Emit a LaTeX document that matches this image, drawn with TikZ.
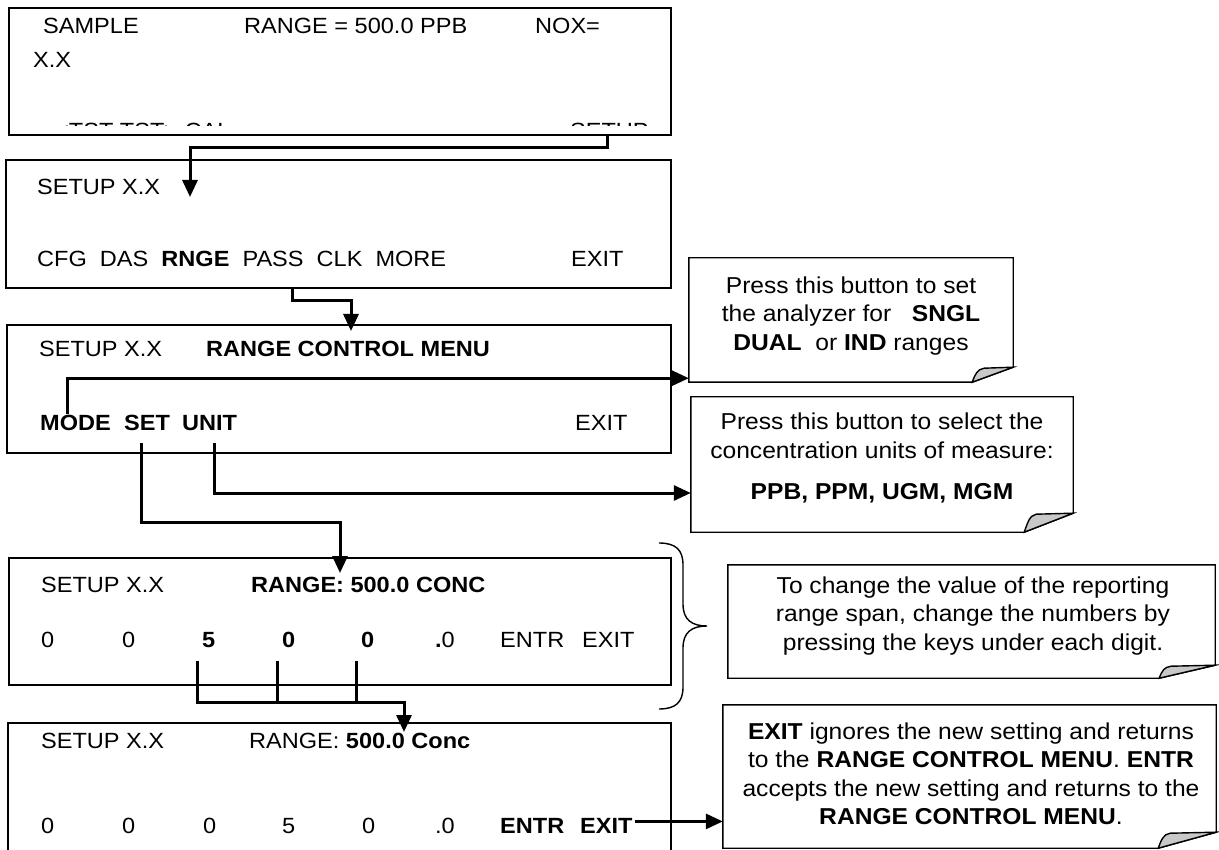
\documentclass[tikz,border=0pt]{standalone}
\usepackage{fontspec}
\setmainfont[FakeStretch=1.07]{Liberation Sans}
\usetikzlibrary{arrows.meta,positioning}
\definecolor{curl-gray}{RGB}{200,200,200}

% outline of a note with a curled bottom right corner
\newcommand{\foldnote}[3]{%
  \draw[noteline] (#1.north west) -- (#1.north east) -- ([yshift=#3pt]#1.south east)
      -- ([xshift=-#2pt]#1.south east) -- (#1.south west) -- cycle;
  \filldraw[noteline, fill=curl-gray] ([xshift=-#2pt]#1.south east)
      .. controls ([xshift=-#2pt+3pt, yshift=8pt]#1.south east) and ([xshift=-#2pt+5pt, yshift=#3pt-2pt]#1.south east)
      .. ([xshift=-#2pt+12pt, yshift=#3pt-1pt]#1.south east) -- ([yshift=#3pt]#1.south east) -- cycle;
}

\begin{document}
\begin{tikzpicture}[
        x=1pt, y=-1pt,
        screen/.style={draw, line width=1.6pt, inner sep=0pt, minimum width=663pt, minimum height=128pt},
        txt/.style={anchor=base west, inner sep=0pt, font=\fontsize{22pt}{27pt}\selectfont},
        note/.style={inner sep=0pt},
        notetext/.style={align=center, inner sep=0pt, font=\fontsize{23pt}{28.5pt}\selectfont},
        noteline/.style={line width=1.4pt},
        link/.style={line width=3pt},
        arrow/.style={link, -{Triangle[length=17pt, width=15pt]}}
    ]
        \useasboundingbox (0,0) rectangle (1219,850);

        % Screens
        \node[screen, minimum width=662pt, minimum height=127pt] (sample) at (340,71.5) {};
        \node[screen, minimum width=665pt] (setup) at (338.5,224) {};
        \node[screen, minimum width=664pt] (rngmenu) at (339,389) {};
        \node[screen, minimum width=662pt, minimum height=127pt] (rngset) at (340,621.5) {};
        \node[screen, minimum height=137pt] (rngconf) at (339.5,791.5) {};

        % Sample screen
        \node[txt] (smptitle) at (43,34) {SAMPLE};
        \node[txt] (smprange) at (244,34) {RANGE = 500.0 PPB};
        \node[txt] (smpnox) at (535,34) {NOX=};
        \node[txt] (smpxx) at (33,68) {X.X};
        \begin{scope}
            \clip (9,119) rectangle (671,126);
            \node[txt] (smpkeys) at (55,139) {<TST TST> CAL};
            \node[txt] (smpsetup) at (570,139) {SETUP};
        \end{scope}

        % Setup screen
        \node[txt] (setuptitle) at (37,195) {SETUP X.X};
        \node[txt] (setupkeys) at (37,267) {CFG\ \ DAS\ \ \textbf{RNGE}\ \ PASS\ \ CLK\ \ MORE};
        \node[txt] (setupexit) at (571,267) {EXIT};

        % Range control menu
        \node[txt] (menutitle) at (39,357) {SETUP X.X};
        \node[txt] (menuname) at (206,357) {\textbf{RANGE CONTROL MENU}};
        \node[txt] (mode) at (40,430) {\textbf{MODE}};
        \node[txt] (set) at (124,430) {\textbf{SET}};
        \node[txt] (unit) at (182,430) {\textbf{UNIT}};
        \node[txt] (menuexit) at (575,430) {EXIT};

        % Range span entry
        \node[txt] (settitle) at (41,592) {SETUP X.X};
        \node[txt] (setname) at (251,592) {\textbf{RANGE: 500.0 CONC}};
        \foreach \x/\d [count=\i] in {41/0, 122/0, 202/\textbf{5}, 282/\textbf{0}, 361/\textbf{0}, 435/\textbf{.}0}
            \node[txt] (sd\i) at (\x,647) {\d};
        \node[txt] (setentr) at (500,647) {ENTR};
        \node[txt] (setexit) at (582,647) {EXIT};

        % Range span accepted
        \node[txt] (conftitle) at (41,748) {SETUP X.X};
        \node[txt] (confname) at (249,748) {RANGE: \textbf{500.0 Conc}};
        \foreach \x/\d [count=\i] in {41/0, 122/0, 203/0, 282/5, 362/0, 435/.0}
            \node[txt] (cd\i) at (\x,833) {\d};
        \node[txt] (confentr) at (500,833) {\textbf{ENTR}};
        \node[txt] (confexit) at (580,833) {\textbf{EXIT}};

        % Notes
        \node[note, minimum width=324pt, minimum height=124pt] (modenote) at (851,320) {};
        \node[notetext] (modetext) at (851,316) {Press this button to set\\the analyzer for \ \ \textbf{SNGL}\\\textbf{DUAL}\ \ or \textbf{IND} ranges};
        \foldnote{modenote}{41}{15}

        \node[note, minimum width=382pt, minimum height=135pt] (unitnote) at (882,464.5) {};
        \node[notetext] (unittext) at (882,458) {Press this button to select the\\concentration units of measure:\\[12.5pt]\textbf{PPB, PPM, UGM, MGM}};
        \foldnote{unitnote}{49}{19}

        \node[note, minimum width=487pt, minimum height=113pt] (spannote) at (971.5,621.5) {};
        \node[notetext] (spantext) at (973,616) {To change the value of the reporting\\range span, change the numbers by\\pressing the keys under each digit.};
        \foldnote{spannote}{56}{13}

        \node[note, minimum width=493pt, minimum height=143pt] (exitnote) at (969.5,776.5) {};
        \node[notetext] (exittext) at (971,774) {\textbf{EXIT} ignores the new setting and returns\\to the \textbf{RANGE CONTROL MENU}. \textbf{ENTR}\\accepts the new setting and returns to the\\\textbf{RANGE CONTROL MENU}.};
        \foldnote{exitnote}{58}{16}

        % Brace over the span screen
        \draw[line width=1.4pt] (659,543) .. controls (676,543) and (683,550) .. (683,565) -- (683,604)
            .. controls (683,620) and (692,626) .. (707,626)
            .. controls (692,626) and (683,632) .. (683,648) -- (683,687)
            .. controls (683,702) and (676,709) .. (659,709);

        % Key presses
        \coordinate (setuptip) at (190,197);
        \coordinate (menutip) at (351,331);
        \coordinate (settip) at (340,573);
        \coordinate (digitbus) at (404,702);
        \coordinate (conftip) at (404,732);
        \draw[arrow] (sample.south -| 607,0) -- ++(0,12) -| (setuptip);
        \draw[arrow] (setup.south -| 292,0) -- ++(0,12) -| (menutip);
        \draw[arrow] ([xshift=27pt]mode.north west) |- ([yshift=4pt]modenote.south west);
        \draw[arrow] ([xshift=5pt, yshift=-13pt]unit.south) |- ([yshift=-28.5pt]unitnote.west);
        \draw[arrow] ([xshift=-6pt, yshift=-13pt]set.south) -- ++(0,79) -| (settip);
        \draw[arrow] (sd3.south) ++(-11,14) |- (digitbus) -- (conftip);
        \draw[link] (sd4.south) ++(-11,14) -- ++(0,41);
        \draw[link] (sd5.south) ++(-11,14) -- ++(0,41);
        \draw[arrow] (confexit.east) ++(2,-4) coordinate (exitfrom) -- (exitfrom -| exitnote.west);
    \end{tikzpicture}
\end{document}
